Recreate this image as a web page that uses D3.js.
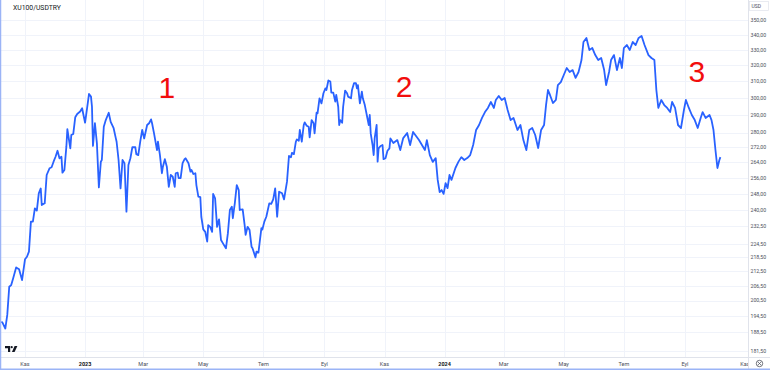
<!DOCTYPE html>
<html lang="en">
<meta charset="utf-8">
<title>XU100/USDTRY</title>
<head>
  <style>
    body { margin: 0; background: #fff; }
    text { font-family: Roboto, "Noto Sans", sans-serif; }
  </style>
</head>
<body>
  <!-- Load d3.js -->
  <script src="https://d3js.org/d3.v7.min.js"></script>

  <!-- the chart goes here -->
  <div id="my_dataviz"></div>

  <script>

    // daily closes (XU100 priced in USD)
    var dates = [
      "2022-10-08","2022-10-09","2022-10-12","2022-10-14","2022-10-16","2022-10-18","2022-10-20","2022-10-23","2022-10-26","2022-10-29",
      "2022-11-01","2022-11-03","2022-11-05","2022-11-07","2022-11-09","2022-11-11","2022-11-13","2022-11-15","2022-11-17","2022-11-18",
      "2022-11-21","2022-11-23","2022-11-26","2022-11-28","2022-11-30","2022-12-02","2022-12-04","2022-12-06","2022-12-08","2022-12-09",
      "2022-12-11","2022-12-13","2022-12-14","2022-12-17","2022-12-18","2022-12-20","2022-12-22","2022-12-24","2022-12-27","2022-12-29",
      "2022-12-30","2023-01-01","2023-01-03","2023-01-05","2023-01-07","2023-01-08","2023-01-09","2023-01-11","2023-01-13","2023-01-15",
      "2023-01-17","2023-01-18","2023-01-20","2023-01-22","2023-01-25","2023-01-27","2023-01-30","2023-02-01","2023-02-02","2023-02-04",
      "2023-02-06","2023-02-08","2023-02-10","2023-02-12","2023-02-14","2023-02-16","2023-02-18","2023-02-21","2023-02-22","2023-02-24",
      "2023-02-26","2023-02-28","2023-03-02","2023-03-05","2023-03-07","2023-03-09","2023-03-10","2023-03-12","2023-03-15","2023-03-16",
      "2023-03-18","2023-03-20","2023-03-21","2023-03-23","2023-03-25","2023-03-27","2023-03-29","2023-03-31","2023-04-02","2023-04-03",
      "2023-04-05","2023-04-06","2023-04-08","2023-04-10","2023-04-12","2023-04-13","2023-04-16","2023-04-18","2023-04-19","2023-04-21",
      "2023-04-23","2023-04-24","2023-04-26","2023-04-28","2023-04-29","2023-05-01","2023-05-03","2023-05-05","2023-05-06","2023-05-08",
      "2023-05-10","2023-05-11","2023-05-13","2023-05-15","2023-05-17","2023-05-19","2023-05-21","2023-05-24","2023-05-26","2023-05-28",
      "2023-05-30","2023-05-31","2023-06-02","2023-06-04","2023-06-06","2023-06-07","2023-06-10","2023-06-12","2023-06-13","2023-06-15",
      "2023-06-17","2023-06-19","2023-06-20","2023-06-23","2023-06-24","2023-06-26","2023-06-29","2023-06-30","2023-07-02","2023-07-04",
      "2023-07-07","2023-07-09","2023-07-11","2023-07-13","2023-07-15","2023-07-17","2023-07-20","2023-07-22","2023-07-25","2023-07-27",
      "2023-07-29","2023-07-30","2023-08-01","2023-08-03","2023-08-04","2023-08-06","2023-08-07","2023-08-09","2023-08-11","2023-08-12",
      "2023-08-14","2023-08-16","2023-08-17","2023-08-19","2023-08-21","2023-08-22","2023-08-24","2023-08-25","2023-08-27","2023-08-29",
      "2023-08-31","2023-09-02","2023-09-03","2023-09-05","2023-09-07","2023-09-08","2023-09-10","2023-09-12","2023-09-13","2023-09-15",
      "2023-09-16","2023-09-17","2023-09-19","2023-09-20","2023-09-22","2023-09-24","2023-09-25","2023-09-28","2023-09-29","2023-10-01",
      "2023-10-03","2023-10-04","2023-10-05","2023-10-07","2023-10-09","2023-10-10","2023-10-12","2023-10-14","2023-10-16","2023-10-17",
      "2023-10-18","2023-10-20","2023-10-21","2023-10-22","2023-10-24","2023-10-25","2023-10-26","2023-10-28","2023-10-30","2023-10-31",
      "2023-11-02","2023-11-04","2023-11-06","2023-11-07","2023-11-10","2023-11-14","2023-11-17","2023-11-20","2023-11-24","2023-11-27",
      "2023-11-30","2023-12-03","2023-12-06","2023-12-09","2023-12-12","2023-12-14","2023-12-17","2023-12-20","2023-12-23","2023-12-25",
      "2023-12-27","2023-12-29","2023-12-31","2024-01-02","2024-01-04","2024-01-06","2024-01-08","2024-01-12","2024-01-15","2024-01-18",
      "2024-01-21","2024-01-24","2024-01-27","2024-01-30","2024-02-02","2024-02-05","2024-02-08","2024-02-11","2024-02-14","2024-02-17",
      "2024-02-20","2024-02-22","2024-02-25","2024-02-28","2024-03-02","2024-03-05","2024-03-08","2024-03-11","2024-03-15","2024-03-18",
      "2024-03-21","2024-03-24","2024-03-27","2024-03-30","2024-04-02","2024-04-05","2024-04-08","2024-04-11","2024-04-13","2024-04-15",
      "2024-04-17","2024-04-20","2024-04-23","2024-04-25","2024-04-28","2024-05-01","2024-05-04","2024-05-07","2024-05-10","2024-05-13",
      "2024-05-16","2024-05-19","2024-05-21","2024-05-24","2024-05-27","2024-05-30","2024-06-02","2024-06-05","2024-06-08","2024-06-11",
      "2024-06-13","2024-06-16","2024-06-18","2024-06-21","2024-06-24","2024-06-27","2024-06-29","2024-07-01","2024-07-04","2024-07-07",
      "2024-07-10","2024-07-13","2024-07-16","2024-07-19","2024-07-22","2024-07-26","2024-07-29","2024-08-01","2024-08-03","2024-08-05",
      "2024-08-08","2024-08-11","2024-08-14","2024-08-17","2024-08-19","2024-08-22","2024-08-25","2024-08-28","2024-08-31","2024-09-02",
      "2024-09-05","2024-09-08","2024-09-11","2024-09-14","2024-09-17","2024-09-19","2024-09-22","2024-09-26","2024-09-28","2024-09-30",
      "2024-10-02","2024-10-04","2024-10-06","2024-10-07"
    ];
    var closes = [
      192.3,192.0,189.7,194.9,206.1,206.8,209.6,214.2,213.4,208.9,
      217.7,218.8,221.0,234.6,234.6,240.9,239.8,248.2,250.6,242.5,
      243.3,257.4,260.9,261.4,264.3,266.9,270.1,266.1,266.9,258.6,
      260.0,272.3,281.9,271.4,278.7,279.3,288.7,290.6,292.0,293.9,
      291.0,285.6,293.9,302.4,300.8,294.8,272.7,285.3,274.1,251.1,
      264.3,265.2,283.3,287.1,291.3,286.1,282.5,277.4,275.0,265.2,
      250.6,265.2,263.5,239.3,262.6,266.1,272.0,272.0,268.3,267.8,
      275.0,281.5,276.8,284.3,285.3,287.5,285.3,279.6,270.5,275.0,
      267.8,258.3,261.7,265.6,261.7,251.4,257.4,256.5,251.4,258.3,
      258.6,255.8,255.8,263.5,265.6,266.1,263.5,259.1,260.0,257.9,
      258.3,252.3,246.6,246.3,236.9,231.0,229.9,225.5,233.0,232.2,
      229.9,247.9,245.7,232.2,235.7,226.2,224.7,222.5,229.3,240.1,
      241.7,236.2,243.3,252.3,249.8,240.1,240.4,233.0,228.5,232.2,
      230.7,223.2,222.5,218.5,221.0,220.6,231.6,231.0,234.6,236.9,
      243.3,243.0,245.2,250.6,236.9,249.0,248.2,245.2,254.0,267.3,
      266.6,269.0,268.3,275.0,276.3,275.5,281.5,275.0,284.3,285.8,
      283.9,283.3,277.4,287.1,285.3,279.6,291.3,291.0,299.8,296.8,
      302.8,305.8,304.8,310.6,310.0,303.2,303.2,297.8,301.8,294.8,
      284.3,287.1,285.6,294.8,304.4,302.8,300.8,299.8,304.8,308.9,
      308.9,305.8,307.8,296.8,303.8,299.8,295.8,290.0,284.3,290.0,
      279.6,272.7,267.8,276.8,284.3,264.3,271.4,272.7,273.2,265.6,
      266.1,270.1,271.4,276.8,274.3,275.9,270.5,277.0,279.8,273.2,
      280.4,278.1,275.9,273.2,270.5,275.9,267.8,264.2,266.2,254.9,
      248.8,249.8,247.9,253.3,250.8,257.4,254.9,261.0,264.2,266.7,
      265.2,266.2,267.8,273.2,281.5,284.3,288.3,291.7,294.1,297.6,
      294.1,298.8,301.2,298.8,300.0,292.9,287.1,288.3,281.5,284.3,
      275.9,270.5,281.5,282.6,278.7,271.6,281.5,284.3,295.8,304.8,
      301.8,297.0,298.8,307.8,309.6,314.0,318.4,315.9,317.1,312.2,
      315.9,323.5,335.3,338.0,330.0,331.3,326.7,323.5,324.8,317.1,
      307.8,315.9,323.5,326.7,317.1,324.8,318.4,331.3,333.3,330.0,
      335.3,333.3,338.0,339.3,333.3,326.7,324.8,323.5,304.8,294.1,
      298.8,295.8,294.1,291.7,297.6,294.1,284.3,282.6,292.9,298.8,
      294.1,290.0,287.1,282.6,288.3,291.7,288.3,290.0,287.1,281.5,
      270.5,261.0,265.2,266.7
    ];

    // price axis labels (log scale, as on the picture)
    var yTicks = [350, 340, 330, 320, 310, 300, 290, 280, 272, 264, 256, 248, 240,
      232.5, 224.5, 218.5, 212.5, 206.5, 200.5, 194.5, 188.5, 181.5];

    // time axis labels
    var xTickDates = ["2022-11-01", "2023-01-01", "2023-03-01", "2023-05-01", "2023-07-01", "2023-09-01",
      "2023-11-01", "2024-01-01", "2024-03-01", "2024-05-01", "2024-07-01", "2024-09-01", "2024-11-01"];
    var xTickLabels = ["Kas", "2023", "Mar", "May", "Tem", "Eyl", "Kas", "2024", "Mar", "May", "Tem", "Eyl", "Kas"];

    // red annotations
    var noteLabels = ["1", "2", "3"];
    var noteDates = ["2023-03-25", "2023-11-21", "2024-09-13"];
    var noteValues = [300, 300.5, 309.6];

    var width = 770, height = 370;
    var plotRight = 748, plotBottom = 357;

    var svg = d3.select("#my_dataviz")
      .append("svg")
      .attr("width", width)
      .attr("height", height);

    var parseDate = d3.timeParse("%Y-%m-%d");

    var x = d3.scaleTime()
      .domain([parseDate("2022-11-01"), parseDate("2024-11-01")])
      .range([25, 745]);

    var y = d3.scaleLog()
      .domain([340, 188.5])
      .range([35, 331.7]);

    var priceFmt = function (v) { return d3.format(".2f")(v).replace(".", ","); };

    // grid
    svg.append("g")
      .selectAll("line")
      .data(yTicks)
      .enter()
      .append("line")
      .attr("x1", 0).attr("x2", plotRight)
      .attr("y1", d => Math.round(y(d)) + 0.5).attr("y2", d => Math.round(y(d)) + 0.5)
      .attr("stroke", "#f0f3fa").attr("stroke-width", 1);

    svg.append("g")
      .selectAll("line")
      .data(xTickDates.slice(0, -1))
      .enter()
      .append("line")
      .attr("x1", d => Math.round(x(parseDate(d))) + 0.5).attr("x2", d => Math.round(x(parseDate(d))) + 0.5)
      .attr("y1", 0).attr("y2", plotBottom)
      .attr("stroke", "#f0f3fa").attr("stroke-width", 1);

    // the price line
    var line = d3.line()
      .x((d, i) => x(parseDate(dates[i])))
      .y(d => y(d));

    svg.append("path")
      .datum(closes)
      .attr("fill", "none")
      .attr("stroke", "#2962ff")
      .attr("stroke-width", 1.8)
      .attr("stroke-linejoin", "round")
      .attr("d", line);

    // annotations 1 2 3
    svg.append("g")
      .selectAll("text")
      .data(noteLabels)
      .enter()
      .append("text")
      .attr("x", (d, i) => x(parseDate(noteDates[i])))
      .attr("y", (d, i) => y(noteValues[i]))
      .attr("text-anchor", "middle")
      .attr("fill", "#f20d0d")
      .style("font-family", "'Liberation Sans', Arial, sans-serif")
      .style("font-size", "30px")
      .text(d => d);

    // title
    svg.append("text")
      .attr("x", 13).attr("y", 9.5)
      .attr("fill", "#131722")
      .style("font-size", "6.8px")
      .text("XU100/USDTRY");

    // TradingView logo (small mark in the corner)
    var logo = svg.append("g").attr("fill", "#131722");
    logo.append("path").attr("d", "M5,346 H10.2 V352 H8 V348.2 H5 Z");
    logo.append("circle").attr("cx", 11.7).attr("cy", 347.2).attr("r", 1.1);
    logo.append("path").attr("d", "M14.6,346 H17.4 L14.6,352 H11.9 Z");

    // separators of the axis panels
    svg.append("line")
      .attr("x1", plotRight + 0.5).attr("x2", plotRight + 0.5)
      .attr("y1", 0).attr("y2", height)
      .attr("stroke", "#e0e3eb");
    svg.append("line")
      .attr("x1", 0).attr("x2", width)
      .attr("y1", plotBottom + 0.5).attr("y2", plotBottom + 0.5)
      .attr("stroke", "#e0e3eb");

    // price axis labels
    svg.append("g")
      .selectAll("text")
      .data(yTicks)
      .enter()
      .append("text")
      .attr("x", 750.5)
      .attr("y", d => y(d) + 1.8)
      .attr("fill", "#4a4e59")
      .style("font-size", "5.2px")
      .text(d => priceFmt(d));

    // currency tag
    svg.append("rect")
      .attr("x", 749.5).attr("y", 1.5).attr("width", 19).attr("height", 9)
      .attr("fill", "#fff").attr("stroke", "#e0e3eb").attr("stroke-width", 0.7);
    svg.append("text")
      .attr("x", 751.5).attr("y", 7.8)
      .attr("fill", "#4a4e59")
      .style("font-size", "5px")
      .text("USD");

    // time axis labels, clipped at the price panel
    svg.append("clipPath").attr("id", "timeClip")
      .append("rect").attr("x", 0).attr("y", plotBottom).attr("width", plotRight).attr("height", height - plotBottom);

    svg.append("g")
      .attr("clip-path", "url(#timeClip)")
      .selectAll("text")
      .data(xTickLabels)
      .enter()
      .append("text")
      .attr("x", (d, i) => x(parseDate(xTickDates[i])))
      .attr("y", 366)
      .attr("text-anchor", "middle")
      .attr("fill", d => /^\d+$/.test(d) ? "#131722" : "#4a4e59")
      .style("font-weight", d => /^\d+$/.test(d) ? "bold" : "normal")
      .style("font-size", "5.5px")
      .text(d => d);

    // settings icon in the corner
    svg.append("circle")
      .attr("cx", 759.5).attr("cy", 363.5).attr("r", 3.2)
      .attr("fill", "none").attr("stroke", "#4a4e59").attr("stroke-width", 0.8);
    svg.append("path")
      .attr("d", "M757.8,361.8 L761.2,365.2 M761.2,361.8 L757.8,365.2")
      .attr("stroke", "#4a4e59").attr("stroke-width", 0.7);

    // blue frame on the left and bottom edges
    svg.append("line")
      .attr("x1", 0.5).attr("x2", 0.5).attr("y1", 0).attr("y2", height)
      .attr("stroke", "#9bb4f6").attr("stroke-width", 1.5);
    svg.append("line")
      .attr("x1", 0).attr("x2", width).attr("y1", height - 0.75).attr("y2", height - 0.75)
      .attr("stroke", "#9bb4f6").attr("stroke-width", 1.5);

  </script>
</body>
</html>
